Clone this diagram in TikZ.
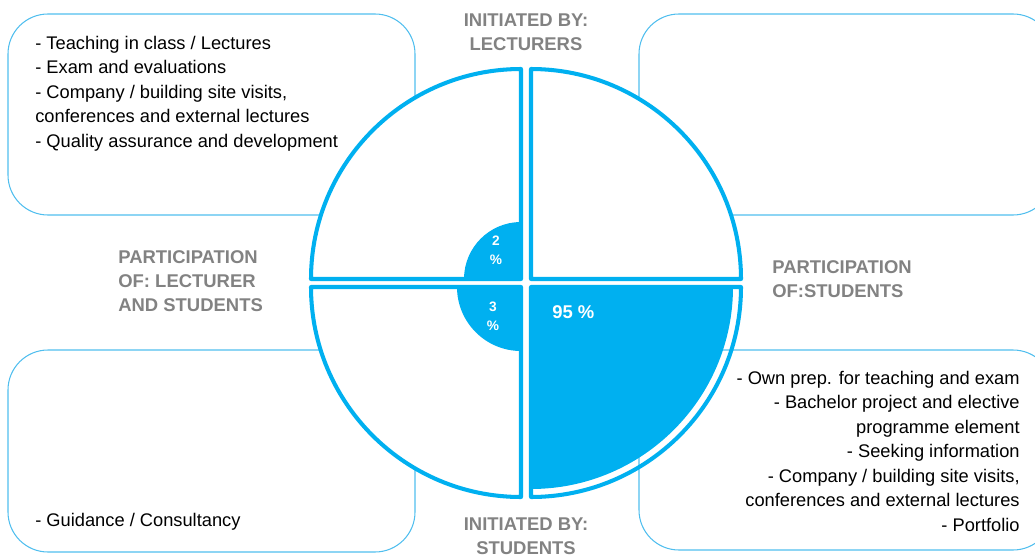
\documentclass[tikz,border=0pt]{standalone}
\usepackage{fontspec}
\setmainfont{Liberation Sans}
\definecolor{pieblue}{RGB}{0,176,240}
\definecolor{boxblue}{RGB}{80,190,238}
\definecolor{labelgray}{RGB}{130,130,130}
\begin{document}
\begin{tikzpicture}[x=0.02cm,y=0.02cm,
  box/.style={draw=boxblue,line width=0.6pt,rounded corners=0.8cm},
  quad/.style={draw=pieblue,line width=2.3pt,fill=white,line join=round},
  item/.style={font=\fontsize{10.4}{13.9}\selectfont,inner sep=0pt},
  head/.style={font=\fontsize{10.5}{13.5}\selectfont\bfseries,text=labelgray,inner sep=0pt},
  pct/.style={font=\fontsize{7.8}{10.8}\selectfont\bfseries,text=white,inner sep=0pt,align=center}]
\useasboundingbox (0,0) rectangle (1035,556);
\draw[box] (8,341) rectangle (415,542);
\draw[box] (639,341) rectangle (1053,542);
\draw[box] (8,4) rectangle (415,206);
\draw[box] (639,6) rectangle (1053,206);
\draw[quad] (521,277) -- (311,277) arc[start angle=180,end angle=90,radius=210] -- cycle;
\fill[pieblue] (521,277) -- (464,277) arc[start angle=180,end angle=90,radius=57] -- cycle;
\draw[quad] (531,277) -- (531,487) arc[start angle=90,end angle=0,radius=210] -- cycle;
\draw[quad] (521,269) -- (521,59) arc[start angle=270,end angle=180,radius=210] -- cycle;
\fill[pieblue] (521,269) -- (521,205) arc[start angle=270,end angle=180,radius=64] -- cycle;
\fill[pieblue] (531,269) -- (733,269) arc[start angle=0,end angle=-90,radius=202] -- cycle;
\draw[quad,fill=none] (531,269) -- (741,269) arc[start angle=0,end angle=-90,radius=210] -- cycle;
\node[item,anchor=base west,align=left] (lectureitems) at (35,409) {- Teaching in class / Lectures\\- Exam and evaluations\\- Company / building site visits,\\conferences and external lectures\\- Quality assurance and development};
\node[item,anchor=base west] (guidance) at (35,30) {- Guidance / Consultancy};
\node[item,anchor=base east,align=right] (studentitems) at (1020,25) {- Own prep. for teaching and exam\\- Bachelor project and elective\\programme element\\- Seeking information\\- Company / building site visits,\\conferences and external lectures\\- Portfolio};
\node[head,anchor=base,align=center] (initlect) at (526,506) {INITIATED BY:\\LECTURERS};
\node[head,anchor=base west,align=left] (partboth) at (118,245) {PARTICIPATION\\OF: LECTURER\\AND STUDENTS};
\node[head,anchor=base west,align=left] (partstud) at (772,259) {PARTICIPATION\\OF:STUDENTS};
\node[head,anchor=base,align=center] (initstud) at (526,2) {INITIATED BY:\\STUDENTS};
\node[pct,anchor=base] (pcttwo) at (496,291.5) {2\\\%};
\node[pct,anchor=base] (pctthree) at (493,225.5) {3\\\%};
\node[font=\fontsize{10.5}{12}\selectfont\bfseries,text=white,anchor=base west,inner sep=0pt] (pctmain) at (552,238) {95 \%};
\end{tikzpicture}
\end{document}
